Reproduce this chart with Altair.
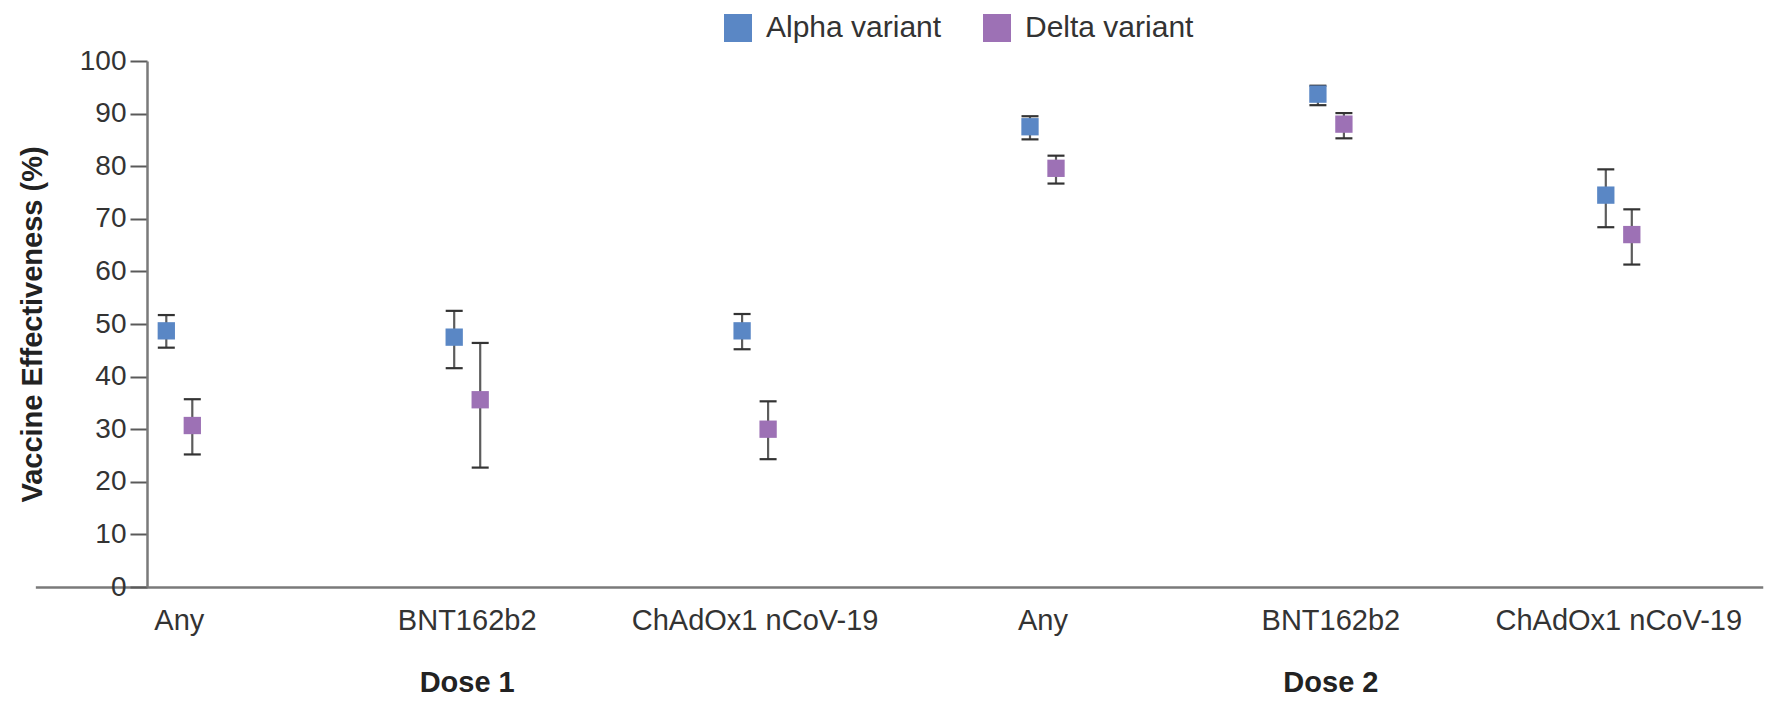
import altair as alt
import pandas as pd

# ---- data ----
doses = ["Dose 1", "Dose 1", "Dose 1", "Dose 2", "Dose 2", "Dose 2"]
vaccines = ["Any", "BNT162b2", "ChAdOx1 nCoV-19", "Any", "BNT162b2", "ChAdOx1 nCoV-19"]
alpha_est = [48.7, 47.5, 48.7, 87.5, 93.7, 74.5]
alpha_lo = [45.5, 41.6, 45.2, 85.1, 91.6, 68.4]
alpha_hi = [51.7, 52.5, 51.9, 89.5, 95.3, 79.4]
delta_est = [30.7, 35.6, 30.0, 79.6, 88.0, 67.0]
delta_lo = [25.2, 22.7, 24.3, 76.7, 85.3, 61.3]
delta_hi = [35.7, 46.4, 35.3, 82.0, 90.1, 71.8]
variants = ["Alpha variant", "Delta variant"]
colors = ["#5a87c5", "#9d71b5"]
y_ticks = [0, 10, 20, 30, 40, 50, 60, 70, 80, 90, 100]
dose_labels = ["Dose 1", "Dose 2"]
dose_anchor = ["BNT162b2", "BNT162b2"]

FONT = "Liberation Sans"

keys = [f"{d}|{v}" for d, v in zip(doses, vaccines)]
rows = []
for k, ae, al, ah, de, dl, dh in zip(keys, alpha_est, alpha_lo, alpha_hi,
                                     delta_est, delta_lo, delta_hi):
    rows.append({"key": k, "variant": variants[0], "est": ae, "lo": al, "hi": ah})
    rows.append({"key": k, "variant": variants[1], "est": de, "lo": dl, "hi": dh})
df = pd.DataFrame(rows)

dose_df = pd.DataFrame({
    "key": [f"{d}|{a}" for d, a in zip(dose_labels, dose_anchor)],
    "dose": dose_labels,
})

x_enc = alt.X(
    "key:N",
    sort=keys,
    scale=alt.Scale(domain=keys, range=[-111.65, 1615.75], paddingInner=0, paddingOuter=0),
    axis=alt.Axis(
        title=None,
        labelExpr="split(datum.label, '|')[1]",
        ticks=False,
        tickSize=0,
        labelPadding=19,
        labelFont=FONT,
        labelFontSize=29,
        labelColor="#333333",
        labelAngle=0,
        labelLimit=400,
        labelOverlap=False,
        domainColor="#7a7a7a",
        domainWidth=2.5,
        grid=False,
    ),
)
xo_enc = alt.XOffset(
    "variant:N",
    sort=variants,
    scale=alt.Scale(domain=variants, range=[117.95, 169.95], paddingInner=0, paddingOuter=0),
)
y_scale = alt.Scale(domain=[0, 100], nice=False, zero=True)
y_axis = alt.Axis(
    title="Vaccine Effectiveness (%)",
    values=y_ticks,
    grid=False,
    tickSize=17,
    tickWidth=2,
    tickColor="#5a5a5a",
    domainColor="#7a7a7a",
    domainWidth=2.5,
    labelPadding=4,
    labelFont=FONT,
    labelFontSize=28,
    labelColor="#333333",
    titleFont=FONT,
    titleFontSize=29,
    titleFontWeight="bold",
    titleColor="#222222",
    titlePadding=32,
)

base = alt.Chart(df)

stems = base.mark_rule(color="#5c5c5c", strokeWidth=2.2).encode(
    x=x_enc, xOffset=xo_enc,
    y=alt.Y("lo:Q", scale=y_scale, axis=y_axis),
    y2="hi:Q",
)
cap_hi = base.mark_tick(orient="horizontal", size=17, thickness=2.2, color="#333333", opacity=1).encode(
    x=x_enc, xOffset=xo_enc, y=alt.Y("hi:Q", scale=y_scale, axis=y_axis),
)
cap_lo = base.mark_tick(orient="horizontal", size=17, thickness=2.2, color="#333333", opacity=1).encode(
    x=x_enc, xOffset=xo_enc, y=alt.Y("lo:Q", scale=y_scale, axis=y_axis),
)
squares = base.mark_square(size=300, opacity=1, filled=True).encode(
    x=x_enc, xOffset=xo_enc,
    y=alt.Y("est:Q", scale=y_scale, axis=y_axis),
    color=alt.Color(
        "variant:N",
        sort=variants,
        scale=alt.Scale(domain=variants, range=colors),
        legend=alt.Legend(
            title=None,
            orient="none",
            legendX=576,
            legendY=-48,
            direction="horizontal",
            symbolType="square",
            symbolSize=784,
            symbolStrokeWidth=0,
            symbolOpacity=1,
            labelFont=FONT,
            labelFontSize=30,
            labelColor="#333333",
            labelOffset=13,
            columnPadding=40,
            padding=0,
            labelLimit=400,
        ),
    ),
)
dose_text = alt.Chart(dose_df).mark_text(
    font=FONT, fontSize=29, fontWeight="bold", color="#222222",
    baseline="alphabetic", align="center",
).encode(
    x=x_enc,
    y=alt.value(631),
    text="dose:N",
)

chart = alt.layer(stems, cap_hi, cap_lo, squares, dose_text).properties(
    width=1628,
    height=526,
    autosize=alt.AutoSizeParams(type="none"),
    padding={"left": 147, "top": 61, "right": 8, "bottom": 114},
    background="white",
).configure_view(stroke=None)

chart.save("out.html", embed_options={"renderer": "svg", "actions": False})
